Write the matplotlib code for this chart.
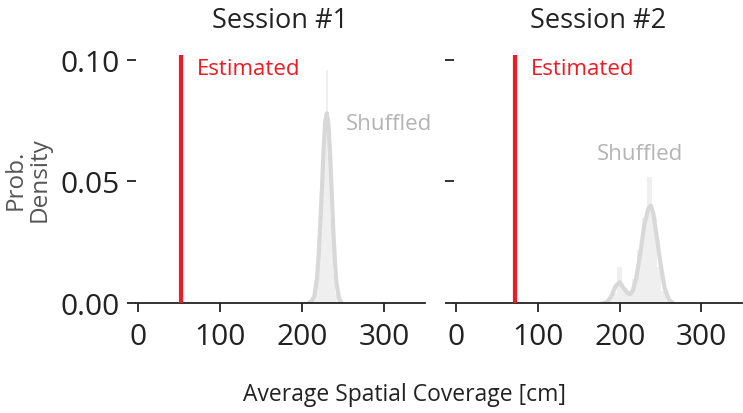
import matplotlib
matplotlib.use("Agg")
from matplotlib import pyplot as plt

plt.rcParams['font.family'] = ['Open Sans', 'DejaVu Sans']

# estimated average spatial coverage [cm]
estimated = [52, 72]
titles = ['Session #1', 'Session #2']

# shuffled distribution, histogram (bin centers, density)
hist1_x = [215, 218, 221, 224, 227, 230, 233, 236, 239, 242, 245]
hist1_y = [0.002, 0.008, 0.022, 0.045, 0.075, 0.096, 0.070, 0.035, 0.012, 0.004, 0.001]
hist1_w = 3
hist2_x = [188, 194, 200, 206, 212, 218, 224, 230, 236, 242, 248, 254, 260]
hist2_y = [0.002, 0.004, 0.015, 0.006, 0.004, 0.010, 0.022, 0.035, 0.052, 0.035, 0.015, 0.005, 0.001]
hist2_w = 6

# shuffled distribution, kde line
kde1_x = [208, 212, 215, 218, 220, 222, 224, 226, 228, 230, 232, 234, 236, 238, 240, 242, 245, 248]
kde1_y = [0.0, 0.001, 0.003, 0.010, 0.019, 0.032, 0.046, 0.062, 0.074, 0.078, 0.074, 0.062, 0.046,
          0.030, 0.017, 0.008, 0.002, 0.0]
kde2_x = [180, 185, 190, 195, 200, 205, 210, 213, 216, 220, 225, 230, 235, 238, 241, 245, 250,
          255, 260, 265]
kde2_y = [0.0, 0.0005, 0.003, 0.007, 0.0085, 0.006, 0.004, 0.0037, 0.005, 0.010, 0.020, 0.032,
          0.039, 0.040, 0.037, 0.028, 0.016, 0.006, 0.0015, 0.0]

shuffled_pos = [(253, 0.0737), (172, 0.0613)]

fig = plt.figure(figsize=(7.43, 4.14), dpi=100)
ax1 = fig.add_axes([0.183, 0.2657, 0.389, 0.599])
ax2 = fig.add_axes([0.611, 0.2657, 0.388, 0.599])

data = [(hist1_x, hist1_y, hist1_w, kde1_x, kde1_y), (hist2_x, hist2_y, hist2_w, kde2_x, kde2_y)]

for i, ax in enumerate([ax1, ax2]):
    hx, hy, hw, kx, ky = data[i]
    ax.bar(hx, hy, width=hw, color='#efefef', edgecolor='none', zorder=1)
    ax.plot(kx, ky, color='#d8d8d8', lw=3, solid_capstyle='round', zorder=2)
    ax.plot([estimated[i], estimated[i]], [0, 0.1015], color='#ed1c24', lw=3, zorder=3)
    ax.text(estimated[i] + 19, 0.0963, 'Estimated', color='#ed1c24', fontsize=16, va='center')
    ax.text(shuffled_pos[i][0], shuffled_pos[i][1], 'Shuffled', color='#b4b4b4', fontsize=16,
            va='center')
    ax.set_xlim(-3, 350)
    ax.set_ylim(0, 0.102)
    ax.set_xticks([0, 100, 200, 300])
    ax.set_yticks([0.0, 0.05, 0.10])
    ax.set_title(titles[i], fontsize=19.5, color='#222222', pad=20)
    for s in ['top', 'right', 'left']:
        ax.spines[s].set_visible(False)
    ax.spines['bottom'].set_linewidth(1.3)
    ax.spines['bottom'].set_color('#222222')
    ax.tick_params(length=6.5, width=1.3, color='#222222', labelsize=21.5, labelcolor='#222222', pad=5)
    ax.tick_params(axis='x', pad=7)

ax1.set_yticklabels(['0.00', '0.05', '0.10'])
ax2.set_yticklabels([])

fig.text(0.037, 0.565, 'Prob.\nDensity', rotation=90, ha='center', va='center',
         multialignment='center', fontsize=17.5, color='#555555', linespacing=1.0)
fig.text(0.545, 0.047, 'Average Spatial Coverage [cm]', ha='center', va='center',
         fontsize=16.5, color='#222222')

plt.savefig('out.png', dpi=100)
